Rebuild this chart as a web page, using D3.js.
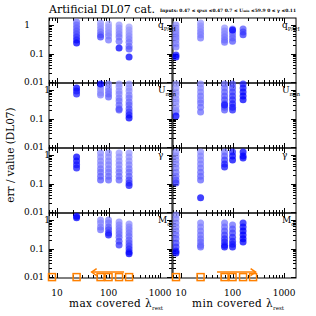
<!DOCTYPE html>
<html>
<head>
<meta charset="utf-8">
<script src="https://cdn.jsdelivr.net/npm/d3@7"></script>
<style>
  body { margin: 0; background: #fff; }
  svg { display: block; }
  text { font-family: "DejaVu Serif", serif; fill: #000; }
</style>
</head>
<body>
<svg id="chart" width="316" height="316"></svg>
<script>
// photometric bands (micron) marked at the bottom of the last row
var bands = [8, 24, 70, 100, 160, 250];
var arrowMax = [200, 47];
var arrowMin = [50, 280];
var arrowLevel = 0.015;
var bandLevel = 0.01;
var rowLabels = [["q", "PAH"], ["U", "min"], ["γ", ""], ["M", "d"]];
var yTickLabels = [1, 0.1, 0.01];
var xTickLabels = [10, 100, 1000];

// points: [covered lambda, err / value, shade 0..1]
var qpahMax = [
  [24,1.27,.45],[24,1.0,.5],[24,.78,.55],[24,.62,.6],[24,.48,.65],[24,.38,.75],[24,.30,.85],[24,.235,1],
  [70,1.17,.3],[70,.92,.3],[70,.72,.35],[70,.57,.45],[70,.45,.55],[70,.38,.7],
  [100,1.08,.25],[100,.85,.28],[100,.67,.3],[100,.52,.35],[100,.41,.4],[100,.30,.45],
  [160,1.0,.3],[160,.78,.32],[160,.62,.35],[160,.48,.4],[160,.38,.45],[160,.27,.5],[160,.156,1],
  [250,.85,.25],[250,.67,.28],[250,.52,.3],[250,.41,.35],[250,.32,.4],[250,.25,.45],[250,.18,.5],[250,.145,.6],[250,.076,1]
];
var qpahMin = [
  [8,1.0,.35],[8,.78,.35],[8,.62,.38],[8,.48,.4],[8,.38,.45],[8,.30,.42],[8,.22,.4],[8,.17,.45],[8,.089,.9],[8,.076,1],
  [24,1.17,.3],[24,.92,.32],[24,.72,.35],[24,.57,.4],[24,.45,.42],[24,.35,.45],
  [70,.78,.3],[70,.62,.35],[70,.48,.4],[70,.38,.45],[70,.30,.5],[70,.25,.5],
  [100,.72,.4],[100,.57,.45],[100,.45,.5],[100,.35,.55],[100,.27,.6],[100,.66,1],
  [160,.72,.6],[160,.57,.7],[160,.45,.75]
];
var uminMax = [
  [24,1.17,1],[24,.92,.95],[24,.72,.85],
  [70,1.27,.4],[70,1.0,.35],[70,.78,.35],[70,.67,.4],[70,1.6,1],
  [100,1.6,.4],[100,1.17,.4],[100,.92,.45],[100,.72,.5],[100,.57,.55],
  [160,1.6,.3],[160,1.27,.32],[160,.92,.35],[160,.72,.38],[160,.52,.42],[160,.41,.48],[160,.30,.52],[160,.22,.58],[160,.20,.62],
  [250,1.6,.3],[250,1.2,.32],[250,.92,.35],[250,.67,.4],[250,.52,.45],[250,.38,.5],[250,.30,.55],[250,.22,.62],[250,.17,.7],[250,.133,.85],[250,.105,1]
];
var uminMin = [
  [8,1.6,.3],[8,1.17,.3],[8,.85,.32],[8,.67,.3],[8,.48,.33],[8,.38,.35],[8,.27,.33],[8,.20,.35],[8,.17,.38],[8,.123,1],
  [24,1.6,.35],[24,1.17,.38],[24,.85,.4],[24,.62,.45],[24,.45,.42],[24,.35,.48],[24,.25,.5],[24,.17,.5],
  [70,1.6,.45],[70,1.17,.5],[70,.85,.55],[70,.62,.6],[70,.45,.65],[70,.33,.7],[70,.25,.65],[70,.20,.6],[70,.30,.9],
  [100,1.6,.6],[100,1.17,.65],[100,.85,.7],[100,.62,.75],[100,.45,.8],[100,.33,.85],[100,.25,.9],[100,.20,.85],
  [160,1.6,.85],[160,1.17,.9],[160,.85,.95],[160,.62,1],[160,.45,1]
];
var gammaMax = [
  [24,.85,1],[24,.62,.95],[24,.45,.9],[24,.35,.9],
  [70,1.17,.35],[70,.85,.35],[70,.62,.38],[70,.45,.4],[70,.33,.45],[70,.25,.5],[70,.18,.55],[70,.133,.6],
  [100,1.17,.35],[100,.85,.35],[100,.62,.38],[100,.45,.4],[100,.33,.42],[100,.25,.45],[100,.18,.5],[100,.133,.55],
  [160,1.17,.3],[160,.85,.32],[160,.62,.35],[160,.45,.38],[160,.33,.4],[160,.25,.45],[160,.18,.5],[160,.133,.55],
  [250,1.17,.3],[250,.85,.32],[250,.62,.35],[250,.45,.4],[250,.33,.45],[250,.25,.5],[250,.18,.55],[250,.133,.65],[250,.105,.75],[250,.085,.9]
];
var gammaMin = [
  [8,1.27,.35],[8,.92,.35],[8,.67,.38],[8,.48,.4],[8,.35,.42],[8,.25,.45],[8,.18,.5],[8,.133,.6],[8,.105,.75],
  [24,1.27,.35],[24,.92,.38],[24,.67,.4],[24,.48,.42],[24,.35,.45],[24,.25,.5],[24,.18,.52],[24,.133,.55],[24,.032,1],
  [70,1.27,.45],[70,.92,.55],[70,.67,.7],[70,.48,.85],[70,.38,.9],
  [100,1.27,.85],[100,.92,.95],[100,.67,1],
  [160,1.27,1],[160,.92,1],[160,.78,1]
];
var mdMax = [
  [24,1.35,1],[24,1.2,1],
  [70,1.0,.35],[70,.78,.38],[70,.57,.42],[70,.45,.5],
  [100,1.0,.4],[100,.78,.45],[100,.57,.55],[100,.45,.65],[100,.35,.8],[100,.30,.9],
  [160,.85,.35],[160,.67,.38],[160,.52,.42],[160,.41,.45],[160,.32,.5],[160,.25,.55],[160,.18,.65],[160,.133,.75],
  [250,.72,.35],[250,.57,.38],[250,.45,.42],[250,.35,.45],[250,.27,.5],[250,.20,.55],[250,.156,.6],[250,.123,.7],[250,.096,.8],[250,.076,.9],[250,.065,1]
];
var mdMin = [
  [8,1.49,.35],[8,1.08,.38],[8,.78,.4],[8,.57,.42],[8,.41,.45],[8,.30,.5],[8,.22,.55],[8,.156,.65],[8,.113,.75],[8,.082,.9],[8,.070,1],
  [24,.78,.4],[24,.57,.42],[24,.41,.45],[24,.30,.48],[24,.22,.5],[24,.17,.52],[24,.13,.55],[24,.113,.55],
  [70,.78,.45],[70,.57,.5],[70,.41,.6],[70,.30,.7],[70,.22,.8],[70,.17,.85],[70,.13,.9],[70,.113,.95],
  [100,.67,.5],[100,.48,.6],[100,.35,.7],[100,.25,.8],[100,.18,.85],[100,.14,.9],[100,.113,.95],
  [160,.78,.9],[160,.57,.95],[160,.41,1],[160,.30,1],[160,.22,1],[160,.17,1]
];

var rows = [[qpahMax, qpahMin], [uminMax, uminMin], [gammaMax, gammaMin], [mdMax, mdMin]];

var svg = d3.select("#chart");
var orange = "#ff8000";
var panelX = [[49, 172], [173, 296]];
var rowTops = [18, 83, 148, 213];
var rowH = 65;

var xScales = panelX.map(function(r) { return d3.scaleLog().domain([7, 1700]).range(r); });
var yScales = rowTops.map(function(t) { return d3.scaleLog().domain([0.0093, 1.75]).range([t + rowH, t]); });
var shade = d3.interpolateRgb("rgb(215,215,252)", "rgb(0,0,255)");

function isMajor(v) { return Math.abs(Math.log10(v) - Math.round(Math.log10(v))) < 1e-6; }

// frames and ticks
rows.forEach(function(row, ri) {
  var y = yScales[ri];
  var top = rowTops[ri], bot = top + rowH;
  panelX.forEach(function(px, pi) {
    var x = xScales[pi];
    var g = svg.append("g").attr("stroke", "#000").attr("stroke-width", 1);
    g.append("rect").attr("x", px[0]).attr("y", top).attr("width", px[1] - px[0]).attr("height", rowH)
      .attr("fill", "none");
    x.ticks().forEach(function(t) {
      var len = isMajor(t) ? 5 : 3;
      var xx = Math.round(x(t)) + 0.5;
      g.append("line").attr("x1", xx).attr("x2", xx).attr("y1", bot).attr("y2", bot - len);
      g.append("line").attr("x1", xx).attr("x2", xx).attr("y1", top).attr("y2", top + len);
    });
    y.ticks().forEach(function(t) {
      var len = isMajor(t) ? 5 : 3;
      var yy = Math.round(y(t)) + 0.5;
      g.append("line").attr("y1", yy).attr("y2", yy).attr("x1", px[0]).attr("x2", px[0] + len);
      g.append("line").attr("y1", yy).attr("y2", yy).attr("x1", px[1]).attr("x2", px[1] - len);
    });
  });

  // y tick labels on the left panel
  yTickLabels.forEach(function(t) {
    var lx = 44, anchor = "end";
    if (t === 1) { anchor = "middle"; lx = ri === 0 ? 27 : 47; }
    svg.append("text").attr("x", lx).attr("y", y(t)).attr("dy", "0.35em")
      .attr("text-anchor", anchor).attr("font-size", 9).text(t);
  });
});

// points
rows.forEach(function(row, ri) {
  row.forEach(function(pts, pi) {
    svg.append("g").selectAll("circle").data(pts).enter().append("circle")
      .attr("cx", function(d) { return xScales[pi](d[0]); })
      .attr("cy", function(d) { return yScales[ri](d[1]); })
      .attr("r", 3.5)
      .attr("fill", function(d) { return shade(d[2]); })
      .attr("fill-opacity", 0.75);
  });
});

// panel labels
rows.forEach(function(row, ri) {
  panelX.forEach(function(px) {
    var t = svg.append("text").attr("x", px[1] - 14).attr("y", rowTops[ri] + 10).attr("font-size", 9);
    t.append("tspan").text(rowLabels[ri][0]);
    if (rowLabels[ri][1]) t.append("tspan").attr("dy", 3).attr("font-size", 5.5).text(rowLabels[ri][1]);
  });
});

// band markers and arrows in the last row
var yb = yScales[3];
[arrowMax, arrowMin].forEach(function(arr, pi) {
  var x = xScales[pi];
  var g = svg.append("g").attr("stroke", orange).attr("fill", "none");
  g.selectAll("rect").data(bands).enter().append("rect")
    .attr("x", function(d) { return x(d) - 3.5; })
    .attr("y", yb(bandLevel) - 3.5)
    .attr("width", 7).attr("height", 7).attr("stroke-width", 1.5);
  var x0 = x(arr[0]), x1 = x(arr[1]), ya = yb(arrowLevel);
  var dir = x1 > x0 ? 1 : -1;
  g.append("line").attr("x1", x0).attr("x2", x1).attr("y1", ya).attr("y2", ya).attr("stroke-width", 1.5);
  g.append("path").attr("stroke-width", 1.5)
    .attr("d", "M" + (x1 - dir * 5) + "," + (ya - 3.5) + "L" + x1 + "," + ya + "L" + (x1 - dir * 5) + "," + (ya + 3.5));
});

// x tick labels
panelX.forEach(function(px, pi) {
  xTickLabels.forEach(function(t) {
    svg.append("text").attr("x", xScales[pi](t)).attr("y", 296)
      .attr("text-anchor", "middle").attr("font-size", 9).text(t);
  });
});

// axis titles
[["max covered λ", 116], ["min covered λ", 238]].forEach(function(d) {
  var t = svg.append("text").attr("x", d[1]).attr("y", 307).attr("text-anchor", "middle")
    .attr("font-size", 10.5).attr("letter-spacing", 0.4);
  t.append("tspan").text(d[0]);
  t.append("tspan").attr("dy", 3).attr("font-size", 5.5).attr("letter-spacing", 0).text("rest");
});
svg.append("text").attr("transform", "translate(14,155) rotate(-90)").attr("text-anchor", "middle")
  .attr("font-size", 10.5).text("err / value (DL07)");

// title and inputs
svg.append("text").attr("x", 49).attr("y", 13).attr("font-size", 11).text("Artificial DL07 cat.");
var inp = svg.append("text").attr("x", 160).attr("y", 12).attr("font-size", 4.5).attr("font-weight", "bold")
  .attr("textLength", 136).attr("lengthAdjust", "spacingAndGlyphs");
inp.append("tspan").text("Inputs: 0.47 ≤ q");
inp.append("tspan").attr("font-size", 3).text("PAH");
inp.append("tspan").text(" ≤0.47  0.7 ≤ U");
inp.append("tspan").attr("font-size", 3).text("min");
inp.append("tspan").text(" ≤59.9  0 ≤ γ ≤0.11");
</script>
</body>
</html>
